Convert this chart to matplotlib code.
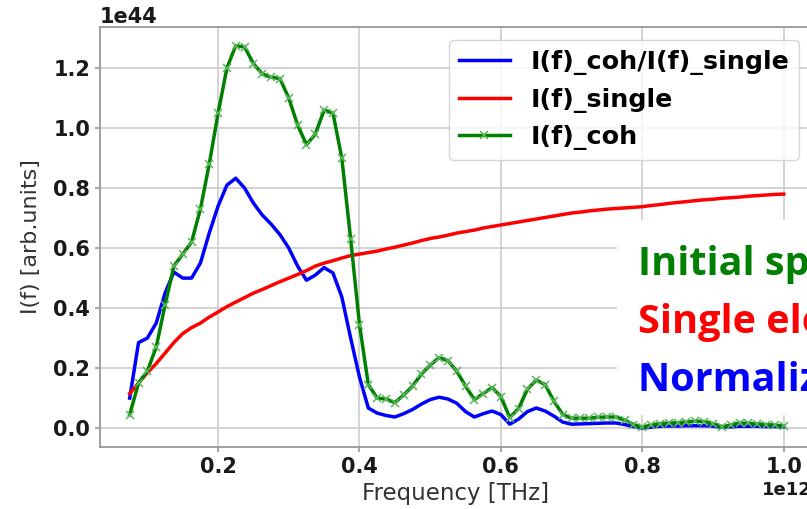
import numpy as np
import matplotlib
matplotlib.use("Agg")
import matplotlib.pyplot as plt
from matplotlib.patches import Rectangle

# frequency grid [THz] and spectra [1e44 arb. units]
freq_thz = [0.075, 0.0875, 0.1, 0.1125, 0.125, 0.1375, 0.15, 0.1625, 0.175, 0.1875,
            0.2, 0.2125, 0.225, 0.2375, 0.25, 0.2625, 0.275, 0.2875, 0.3, 0.3125,
            0.325, 0.3375, 0.35, 0.3625, 0.375, 0.3875, 0.4, 0.4125, 0.425, 0.4375,
            0.45, 0.4625, 0.475, 0.4875, 0.5, 0.5125, 0.525, 0.5375, 0.55, 0.5625,
            0.575, 0.5875, 0.6, 0.6125, 0.625, 0.6375, 0.65, 0.6625, 0.675, 0.6875,
            0.7, 0.7125, 0.725, 0.7375, 0.75, 0.7625, 0.775, 0.7875, 0.8, 0.8125,
            0.825, 0.8375, 0.85, 0.8625, 0.875, 0.8875, 0.9, 0.9125, 0.925, 0.9375,
            0.95, 0.9625, 0.975, 0.9875, 1.0]

ratio = [0.10, 0.285, 0.30, 0.35, 0.45, 0.52, 0.50, 0.50, 0.55, 0.65,
         0.74, 0.81, 0.833, 0.80, 0.75, 0.71, 0.68, 0.645, 0.60, 0.54,
         0.493, 0.51, 0.535, 0.517, 0.437, 0.30, 0.17, 0.067, 0.05, 0.042,
         0.037, 0.048, 0.062, 0.08, 0.095, 0.103, 0.097, 0.083, 0.055, 0.037,
         0.048, 0.057, 0.045, 0.013, 0.03, 0.055, 0.067, 0.057, 0.04, 0.02,
         0.013, 0.014, 0.015, 0.016, 0.017, 0.017, 0.012, 0.005, 0.0, 0.003,
         0.006, 0.007, 0.007, 0.008, 0.008, 0.008, 0.006, 0.003, 0.004, 0.006,
         0.006, 0.006, 0.005, 0.005, 0.004]

single = [0.115, 0.15, 0.185, 0.215, 0.25, 0.285, 0.315, 0.335, 0.35, 0.37,
          0.387, 0.405, 0.42, 0.435, 0.45, 0.462, 0.475, 0.488, 0.50, 0.512,
          0.525, 0.54, 0.55, 0.558, 0.567, 0.575, 0.58, 0.585, 0.59, 0.597,
          0.603, 0.61, 0.617, 0.625, 0.632, 0.637, 0.643, 0.65, 0.655, 0.66,
          0.667, 0.672, 0.677, 0.682, 0.687, 0.692, 0.697, 0.702, 0.707, 0.712,
          0.717, 0.72, 0.724, 0.727, 0.73, 0.732, 0.734, 0.736, 0.738, 0.742,
          0.745, 0.749, 0.752, 0.755, 0.758, 0.761, 0.763, 0.766, 0.768, 0.77,
          0.773, 0.775, 0.777, 0.779, 0.78]

coh = [0.045, 0.15, 0.19, 0.27, 0.41, 0.54, 0.58, 0.62, 0.73, 0.88,
       1.05, 1.20, 1.275, 1.27, 1.215, 1.18, 1.17, 1.165, 1.10, 1.01,
       0.945, 0.98, 1.06, 1.05, 0.90, 0.63, 0.345, 0.145, 0.10, 0.097,
       0.085, 0.11, 0.14, 0.18, 0.21, 0.235, 0.225, 0.19, 0.14, 0.095,
       0.115, 0.135, 0.105, 0.035, 0.065, 0.13, 0.16, 0.145, 0.09, 0.045,
       0.033, 0.033, 0.033, 0.036, 0.037, 0.037, 0.027, 0.012, 0.003, 0.01,
       0.015, 0.017, 0.018, 0.02, 0.023, 0.022, 0.015, 0.005, 0.01, 0.017,
       0.016, 0.014, 0.012, 0.01, 0.007]

notes = ["Initial spectrum", "Single electron spectrum", "Normalized spectrum"]
note_colors = ["#008000", "#ff0000", "#0000ff"]

f = np.array(freq_thz) * 1e12
scale = 1e44

fig = plt.figure(figsize=(8.07, 5.09), dpi=100)
ax = fig.add_axes([100 / 807, 62 / 509, 712 / 807, 420 / 509])

ax.plot(f, np.array(ratio) * scale, color="blue", lw=2.5, label="I(f)_coh/I(f)_single")
ax.plot(f, np.array(single) * scale, color="red", lw=2.5, label="I(f)_single")
ax.plot(f, np.array(coh) * scale, color="green", lw=2.5, marker="x", ms=5.5,
        mew=1.1, mec="#5cb85c", label="I(f)_coh")

ax.set_xlim(0.033e12, 1.04e12)
ax.set_ylim(-0.063e44, 1.337e44)
ax.set_xticks(np.array([0.2, 0.4, 0.6, 0.8, 1.0]) * 1e12)
ax.set_yticks(np.array([0.0, 0.2, 0.4, 0.6, 0.8, 1.0, 1.2]) * 1e44)

ax.grid(True, color="#d0d0d0", lw=1.3)
ax.set_axisbelow(True)
for s in ax.spines.values():
    s.set_color("#999999")
    s.set_linewidth(1.3)
ax.tick_params(colors="#999999", labelcolor="#1a1a1a", labelsize=15, width=1.2)
for lbl in ax.get_xticklabels() + ax.get_yticklabels():
    lbl.set_fontweight("bold")
ax.xaxis.get_offset_text().set_fontweight("bold")
ax.xaxis.get_offset_text().set_fontsize(13)
ax.yaxis.get_offset_text().set_fontweight("bold")
ax.yaxis.get_offset_text().set_fontsize(15)

ax.set_xlabel("Frequency [THz]", fontsize=16.5, color="#333333", labelpad=4)
ax.set_ylabel("I(f) [arb.units]", fontsize=16, color="#333333", labelpad=9)

ax.legend(loc="upper right", prop={"weight": "bold", "size": 18.3},
          handlelength=2.0, labelspacing=0.5, borderpad=0.4)

# white panel with coloured notes on the right
fig.add_artist(Rectangle((617 / 807, (509 - 415) / 509), 0.3, 195 / 509,
                         transform=fig.transFigure, facecolor="white",
                         edgecolor="none", zorder=5))
for i, (txt, col) in enumerate(zip(notes, note_colors)):
    fig.text(638 / 807, (509 - 275 - 58 * i) / 509, txt, color=col,
             fontsize=28.5, fontweight="bold", family="Open Sans",
             va="baseline", ha="left", zorder=6)

fig.savefig("out.png", dpi=100)
